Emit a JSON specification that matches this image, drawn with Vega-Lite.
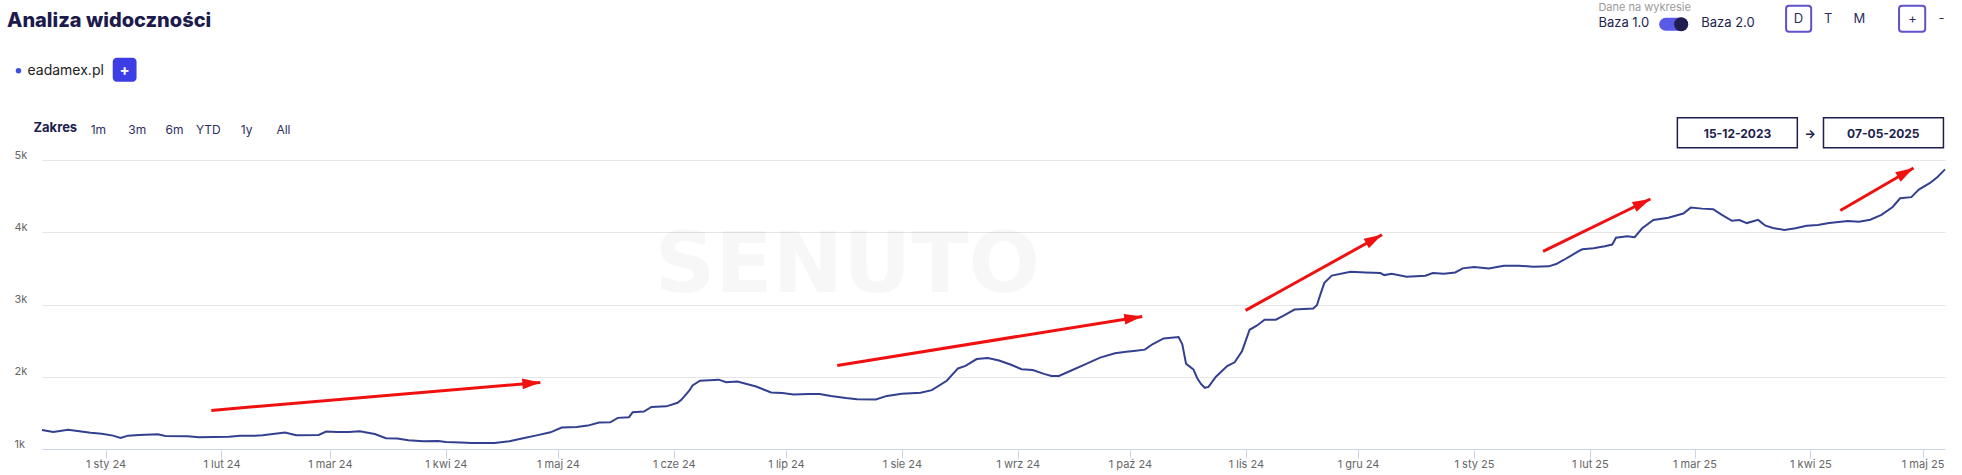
{
  "$schema": "https://vega.github.io/schema/vega-lite/v6.json",
  "width": 1903,
  "height": 289,
  "autosize": {"type": "none"},
  "padding": {"left": 42, "top": 160, "right": 17, "bottom": 26},
  "background": "white",
  "title": {"text": "Analiza widoczności", "anchor": "start", "frame": "group", "dx": -35, "offset": -33, "font": "Inter", "fontSize": 20, "fontWeight": 800, "color": "#1c1b4b"},
  "config": {"view": {"stroke": null}, "text": {"font": "Inter"}, "axis": {"labelFont": "Inter"}},
  "encoding": {
    "x": {"field": "date", "type": "temporal",
      "scale": {"type": "utc", "domain": [{"year": 2023, "month": 12, "date": 15, "utc": true}, {"year": 2025, "month": 5, "date": 7, "utc": true}]},
      "axis": {"title": null, "tickCount": {"interval": "month", "step": 1}, "labelExpr": "'1 ' + ['sty','lut','mar','kwi','maj','cze','lip','sie','wrz','paź','lis','gru'][utcmonth(datum.value)] + ' ' + utcFormat(datum.value, '%y')", "grid": false, "domainColor": "#ccd6eb", "tickColor": "#ccd6eb", "tickSize": 9, "labelColor": "#666666", "labelFontSize": 11, "labelPadding": 0, "labelFlush": false, "labelOverlap": false}},
    "y": {"field": "value", "type": "quantitative",
      "scale": {"domain": [1000, 5000], "nice": false, "zero": false},
      "axis": {"title": null, "values": [1000, 2000, 3000, 4000, 5000], "labelExpr": "datum.value / 1000 + 'k'", "domain": false, "ticks": false, "gridColor": "#e6e6e6", "labelAlign": "left", "labelPadding": 28, "labelBaseline": "alphabetic", "labelOffset": -2, "labelColor": "#666666", "labelFontSize": 11}}
  },
  "layer": [
    {
      "data": {"values": [{"label": "SENUTO", "date": "2024-07-17 10:00", "value": 3177}], "format": {"parse": {"date": "utc:'%Y-%m-%d %H:%M'"}}},
      "mark": {"type": "text", "font": "DejaVu Sans", "fontWeight": "bold", "fontSize": 84, "color": "#000000", "opacity": 0.028, "align": "center", "baseline": "alphabetic"},
      "encoding": {"text": {"field": "label"}}
    },
    {
      "data": {"values": [
        {"date": "2023-12-15", "value": 1264}, {"date": "2023-12-18", "value": 1236}, {"date": "2023-12-22", "value": 1268}, {"date": "2023-12-25", "value": 1245},
        {"date": "2023-12-28", "value": 1225}, {"date": "2023-12-31", "value": 1210}, {"date": "2024-01-03", "value": 1185}, {"date": "2024-01-05", "value": 1153},
        {"date": "2024-01-07", "value": 1185}, {"date": "2024-01-10", "value": 1194}, {"date": "2024-01-15", "value": 1204}, {"date": "2024-01-17", "value": 1181},
        {"date": "2024-01-23", "value": 1176}, {"date": "2024-01-26", "value": 1162}, {"date": "2024-01-30", "value": 1167}, {"date": "2024-02-03", "value": 1171},
        {"date": "2024-02-06", "value": 1185}, {"date": "2024-02-10", "value": 1185}, {"date": "2024-02-12", "value": 1190}, {"date": "2024-02-18", "value": 1227},
        {"date": "2024-02-21", "value": 1190}, {"date": "2024-02-27", "value": 1194}, {"date": "2024-02-29", "value": 1241}, {"date": "2024-03-03", "value": 1236},
        {"date": "2024-03-06", "value": 1236}, {"date": "2024-03-09", "value": 1245}, {"date": "2024-03-13", "value": 1208}, {"date": "2024-03-16", "value": 1148},
        {"date": "2024-03-19", "value": 1144}, {"date": "2024-03-22", "value": 1120}, {"date": "2024-03-26", "value": 1106}, {"date": "2024-03-30", "value": 1111},
        {"date": "2024-04-01", "value": 1097}, {"date": "2024-04-05", "value": 1090}, {"date": "2024-04-08", "value": 1083}, {"date": "2024-04-11", "value": 1083},
        {"date": "2024-04-14", "value": 1083}, {"date": "2024-04-18", "value": 1106}, {"date": "2024-04-22", "value": 1153}, {"date": "2024-04-25", "value": 1185},
        {"date": "2024-04-29", "value": 1231}, {"date": "2024-05-02", "value": 1296}, {"date": "2024-05-06", "value": 1306}, {"date": "2024-05-09", "value": 1324},
        {"date": "2024-05-12", "value": 1366}, {"date": "2024-05-15", "value": 1370}, {"date": "2024-05-17", "value": 1431}, {"date": "2024-05-20", "value": 1440},
        {"date": "2024-05-21", "value": 1509}, {"date": "2024-05-24", "value": 1519}, {"date": "2024-05-26", "value": 1583}, {"date": "2024-05-30", "value": 1590},
        {"date": "2024-06-02", "value": 1640}, {"date": "2024-06-03", "value": 1680}, {"date": "2024-06-05", "value": 1800}, {"date": "2024-06-06", "value": 1880},
        {"date": "2024-06-08", "value": 1945}, {"date": "2024-06-13", "value": 1960}, {"date": "2024-06-15", "value": 1925}, {"date": "2024-06-18", "value": 1935},
        {"date": "2024-06-23", "value": 1865}, {"date": "2024-06-27", "value": 1782}, {"date": "2024-06-30", "value": 1775}, {"date": "2024-07-03", "value": 1755},
        {"date": "2024-07-07", "value": 1762}, {"date": "2024-07-10", "value": 1762}, {"date": "2024-07-13", "value": 1735}, {"date": "2024-07-17", "value": 1706},
        {"date": "2024-07-20", "value": 1690}, {"date": "2024-07-25", "value": 1685}, {"date": "2024-07-28", "value": 1735}, {"date": "2024-08-01", "value": 1765},
        {"date": "2024-08-06", "value": 1778}, {"date": "2024-08-09", "value": 1815}, {"date": "2024-08-13", "value": 1945}, {"date": "2024-08-16", "value": 2115},
        {"date": "2024-08-18", "value": 2150}, {"date": "2024-08-21", "value": 2245}, {"date": "2024-08-24", "value": 2260}, {"date": "2024-08-27", "value": 2225},
        {"date": "2024-08-30", "value": 2170}, {"date": "2024-09-02", "value": 2105}, {"date": "2024-09-05", "value": 2092}, {"date": "2024-09-08", "value": 2040},
        {"date": "2024-09-10", "value": 2010}, {"date": "2024-09-12", "value": 2012}, {"date": "2024-09-15", "value": 2079}, {"date": "2024-09-19", "value": 2171},
        {"date": "2024-09-23", "value": 2265}, {"date": "2024-09-27", "value": 2325}, {"date": "2024-09-30", "value": 2345}, {"date": "2024-10-02", "value": 2357},
        {"date": "2024-10-05", "value": 2375}, {"date": "2024-10-07", "value": 2450}, {"date": "2024-10-10", "value": 2530}, {"date": "2024-10-14", "value": 2550},
        {"date": "2024-10-15", "value": 2450}, {"date": "2024-10-16", "value": 2180}, {"date": "2024-10-17", "value": 2140}, {"date": "2024-10-18", "value": 2100},
        {"date": "2024-10-19", "value": 1980}, {"date": "2024-10-20", "value": 1900}, {"date": "2024-10-21", "value": 1847}, {"date": "2024-10-22", "value": 1860},
        {"date": "2024-10-24", "value": 2000}, {"date": "2024-10-27", "value": 2148}, {"date": "2024-10-29", "value": 2200}, {"date": "2024-10-31", "value": 2357},
        {"date": "2024-11-02", "value": 2650}, {"date": "2024-11-04", "value": 2710}, {"date": "2024-11-06", "value": 2790}, {"date": "2024-11-09", "value": 2790},
        {"date": "2024-11-11", "value": 2843}, {"date": "2024-11-14", "value": 2930}, {"date": "2024-11-19", "value": 2944}, {"date": "2024-11-20", "value": 2990},
        {"date": "2024-11-21", "value": 3150}, {"date": "2024-11-22", "value": 3300}, {"date": "2024-11-24", "value": 3400}, {"date": "2024-11-29", "value": 3454},
        {"date": "2024-12-03", "value": 3444}, {"date": "2024-12-07", "value": 3435}, {"date": "2024-12-08", "value": 3407}, {"date": "2024-12-10", "value": 3426},
        {"date": "2024-12-14", "value": 3384}, {"date": "2024-12-19", "value": 3398}, {"date": "2024-12-21", "value": 3435}, {"date": "2024-12-24", "value": 3426},
        {"date": "2024-12-27", "value": 3444}, {"date": "2024-12-29", "value": 3500}, {"date": "2025-01-01", "value": 3519}, {"date": "2025-01-05", "value": 3500},
        {"date": "2025-01-09", "value": 3537}, {"date": "2025-01-13", "value": 3537}, {"date": "2025-01-17", "value": 3523}, {"date": "2025-01-21", "value": 3528},
        {"date": "2025-01-23", "value": 3560}, {"date": "2025-01-25", "value": 3616}, {"date": "2025-01-27", "value": 3676}, {"date": "2025-01-29", "value": 3740},
        {"date": "2025-01-30", "value": 3765}, {"date": "2025-02-02", "value": 3778}, {"date": "2025-02-05", "value": 3806}, {"date": "2025-02-07", "value": 3830},
        {"date": "2025-02-08", "value": 3925}, {"date": "2025-02-11", "value": 3945}, {"date": "2025-02-13", "value": 3932}, {"date": "2025-02-15", "value": 4055},
        {"date": "2025-02-18", "value": 4170}, {"date": "2025-02-22", "value": 4200}, {"date": "2025-02-26", "value": 4259}, {"date": "2025-02-28", "value": 4341},
        {"date": "2025-03-03", "value": 4327}, {"date": "2025-03-06", "value": 4318}, {"date": "2025-03-08", "value": 4250}, {"date": "2025-03-11", "value": 4159},
        {"date": "2025-03-13", "value": 4168}, {"date": "2025-03-15", "value": 4127}, {"date": "2025-03-18", "value": 4173}, {"date": "2025-03-19", "value": 4130},
        {"date": "2025-03-20", "value": 4091}, {"date": "2025-03-22", "value": 4059}, {"date": "2025-03-25", "value": 4032}, {"date": "2025-03-28", "value": 4055},
        {"date": "2025-03-31", "value": 4091}, {"date": "2025-04-03", "value": 4100}, {"date": "2025-04-06", "value": 4127}, {"date": "2025-04-11", "value": 4155},
        {"date": "2025-04-14", "value": 4145}, {"date": "2025-04-17", "value": 4173}, {"date": "2025-04-20", "value": 4240}, {"date": "2025-04-23", "value": 4350},
        {"date": "2025-04-25", "value": 4470}, {"date": "2025-04-28", "value": 4486}, {"date": "2025-04-30", "value": 4591}, {"date": "2025-05-03", "value": 4682},
        {"date": "2025-05-05", "value": 4764}, {"date": "2025-05-07", "value": 4870}
      ], "format": {"parse": {"date": "utc:'%Y-%m-%d'"}}},
      "mark": {"type": "line", "color": "#33408f", "strokeWidth": 2, "interpolate": "linear"}
    },
    {
      "data": {"name": "arrows", "values": [
        {"arrow": 1, "end": "tail", "date": "2024-01-29 07:00", "value": 1534}, {"arrow": 1, "end": "tip", "date": "2024-04-26 07:00", "value": 1922},
        {"arrow": 2, "end": "tail", "date": "2024-07-14 17:00", "value": 2157}, {"arrow": 2, "end": "tip", "date": "2024-10-04 07:00", "value": 2835},
        {"arrow": 3, "end": "tail", "date": "2024-10-31 22:00", "value": 2918}, {"arrow": 3, "end": "tip", "date": "2024-12-07 10:00", "value": 3966},
        {"arrow": 4, "end": "tail", "date": "2025-01-19 12:00", "value": 3735}, {"arrow": 4, "end": "tip", "date": "2025-02-17 05:00", "value": 4460},
        {"arrow": 5, "end": "tail", "date": "2025-04-09 00:00", "value": 4302}, {"arrow": 5, "end": "tip", "date": "2025-04-28 14:00", "value": 4889}
      ], "format": {"parse": {"date": "utc:'%Y-%m-%d %H:%M'"}}},
      "layer": [
        {"mark": {"type": "line", "color": "#f01010", "strokeWidth": 3, "strokeCap": "butt"}, "encoding": {"detail": {"field": "arrow"}}},
        {"transform": [{"filter": "datum.end == 'tip' && datum.arrow == 1"}], "mark": {"type": "point", "shape": "M0,0L-2,-0.6L-2,0.6Z", "size": 324, "filled": true, "color": "#f01010", "opacity": 1, "angle": 355}},
        {"transform": [{"filter": "datum.end == 'tip' && datum.arrow == 2"}], "mark": {"type": "point", "shape": "M0,0L-2,-0.6L-2,0.6Z", "size": 324, "filled": true, "color": "#f01010", "opacity": 1, "angle": 351}},
        {"transform": [{"filter": "datum.end == 'tip' && datum.arrow == 3"}], "mark": {"type": "point", "shape": "M0,0L-2,-0.6L-2,0.6Z", "size": 324, "filled": true, "color": "#f01010", "opacity": 1, "angle": 331}},
        {"transform": [{"filter": "datum.end == 'tip' && datum.arrow == 4"}], "mark": {"type": "point", "shape": "M0,0L-2,-0.6L-2,0.6Z", "size": 324, "filled": true, "color": "#f01010", "opacity": 1, "angle": 334}},
        {"transform": [{"filter": "datum.end == 'tip' && datum.arrow == 5"}], "mark": {"type": "point", "shape": "M0,0L-2,-0.6L-2,0.6Z", "size": 324, "filled": true, "color": "#f01010", "opacity": 1, "angle": 330}}
      ]
    },
    {
      "data": {"values": [
        {"date": "2024-01-02 22:00", "date2": "2024-01-09 07:00", "value": 6416, "value2": 6084}
      ], "format": {"parse": {"date": "utc:'%Y-%m-%d %H:%M'", "date2": "utc:'%Y-%m-%d %H:%M'"}}},
      "mark": {"type": "rect", "color": "#3d3de6", "cornerRadius": 4},
      "encoding": {"x2": {"field": "date2"}, "y2": {"field": "value2"}}
    },
    {
      "data": {"values": [
        {"date": "2025-02-24 10:00", "date2": "2025-03-28 12:00", "value": 5585, "value2": 5170},
        {"date": "2025-04-04 12:00", "date2": "2025-05-06 14:00", "value": 5585, "value2": 5170}
      ], "format": {"parse": {"date": "utc:'%Y-%m-%d %H:%M'", "date2": "utc:'%Y-%m-%d %H:%M'"}}},
      "mark": {"type": "rect", "fill": null, "fillOpacity": 0, "stroke": "#1d1d4f", "strokeWidth": 1.5},
      "encoding": {"x2": {"field": "date2"}, "y2": {"field": "value2"}}
    },
    {
      "data": {"values": [
        {"date": "2025-03-25 12:00", "date2": "2025-04-01 05:00", "value": 7135, "value2": 6775},
        {"date": "2025-04-24 17:00", "date2": "2025-05-01 17:00", "value": 7135, "value2": 6775}
      ], "format": {"parse": {"date": "utc:'%Y-%m-%d %H:%M'", "date2": "utc:'%Y-%m-%d %H:%M'"}}},
      "mark": {"type": "rect", "fill": null, "fillOpacity": 0, "stroke": "#5f52c9", "strokeWidth": 2, "cornerRadius": 3},
      "encoding": {"x2": {"field": "date2"}, "y2": {"field": "value2"}}
    },
    {
      "data": {"values": [
        {"date": "2025-02-21 07:00", "value": 6879, "part": "track"},
        {"date": "2025-02-25 14:00", "value": 6879, "part": "track"}
      ], "format": {"parse": {"date": "utc:'%Y-%m-%d %H:%M'"}}},
      "mark": {"type": "line", "color": "#5a5ae6", "strokeWidth": 13, "strokeCap": "round"}
    },
    {
      "data": {"values": [{"date": "2025-02-25 10:00", "value": 6879}], "format": {"parse": {"date": "utc:'%Y-%m-%d %H:%M'"}}},
      "mark": {"type": "point", "shape": "circle", "filled": true, "size": 196, "color": "#1e1e50", "opacity": 1}
    },
    {
      "data": {"values": [{"date": "2023-12-08 17:00", "value": 6236}], "format": {"parse": {"date": "utc:'%Y-%m-%d %H:%M'"}}},
      "mark": {"type": "point", "shape": "circle", "filled": true, "size": 30, "color": "#3b50e0", "opacity": 1}
    },
    {
      "data": {"values": [{"label": "eadamex.pl", "date": "2023-12-11 03:00", "value": 6236}], "format": {"parse": {"date": "utc:'%Y-%m-%d %H:%M'"}}},
      "mark": {"type": "text", "fontSize": 14, "color": "#222222", "align": "left", "baseline": "middle"},
      "encoding": {"text": {"field": "label"}}
    },
    {
      "data": {"values": [{"label": "+", "date": "2024-01-06 02:00", "value": 6250}], "format": {"parse": {"date": "utc:'%Y-%m-%d %H:%M'"}}},
      "mark": {"type": "text", "fontSize": 15, "fontWeight": "bold", "color": "#ffffff", "align": "center", "baseline": "middle"},
      "encoding": {"text": {"field": "label"}}
    },
    {
      "data": {"values": [{"label": "Zakres", "date": "2023-12-12 17:00", "value": 5440}], "format": {"parse": {"date": "utc:'%Y-%m-%d %H:%M'"}}},
      "mark": {"type": "text", "fontSize": 13, "fontWeight": "bold", "color": "#1d1d4f", "align": "left", "baseline": "middle"},
      "encoding": {"text": {"field": "label"}}
    },
    {
      "data": {"values": [
        {"label": "1m", "date": "2023-12-30 02:00", "value": 5419},
        {"label": "3m", "date": "2024-01-09 12:00", "value": 5419},
        {"label": "6m", "date": "2024-01-19 10:00", "value": 5419},
        {"label": "YTD", "date": "2024-01-28 12:00", "value": 5419},
        {"label": "1y", "date": "2024-02-07 17:00", "value": 5419},
        {"label": "All", "date": "2024-02-17 14:00", "value": 5419}
      ], "format": {"parse": {"date": "utc:'%Y-%m-%d %H:%M'"}}},
      "mark": {"type": "text", "fontSize": 12, "color": "#2d2d5f", "align": "center", "baseline": "middle"},
      "encoding": {"text": {"field": "label"}}
    },
    {
      "data": {"values": [{"label": "Dane na wykresie", "date": "2025-02-03 07:00", "value": 7108}], "format": {"parse": {"date": "utc:'%Y-%m-%d %H:%M'"}}},
      "mark": {"type": "text", "fontSize": 11, "color": "#9b9b9b", "align": "left", "baseline": "middle"},
      "encoding": {"text": {"field": "label"}}
    },
    {
      "data": {"values": [
        {"label": "Baza 1.0", "date": "2025-02-03 07:00", "value": 6900},
        {"label": "Baza 2.0", "date": "2025-03-02 19:00", "value": 6900}
      ], "format": {"parse": {"date": "utc:'%Y-%m-%d %H:%M'"}}},
      "mark": {"type": "text", "fontSize": 13, "color": "#23234f", "align": "left", "baseline": "middle"},
      "encoding": {"text": {"field": "label"}}
    },
    {
      "data": {"values": [
        {"label": "D", "date": "2025-03-28 19:00", "value": 6955},
        {"label": "T", "date": "2025-04-05 19:00", "value": 6955},
        {"label": "M", "date": "2025-04-14 02:00", "value": 6955},
        {"label": "+", "date": "2025-04-28 07:00", "value": 6955},
        {"label": "-", "date": "2025-05-06 02:00", "value": 6955}
      ], "format": {"parse": {"date": "utc:'%Y-%m-%d %H:%M'"}}},
      "mark": {"type": "text", "fontSize": 13, "color": "#2d2d5f", "align": "center", "baseline": "middle"},
      "encoding": {"text": {"field": "label"}}
    },
    {
      "data": {"values": [
        {"label": "15-12-2023", "date": "2025-03-12 12:00", "value": 5364},
        {"label": "→", "date": "2025-03-31 22:00", "value": 5364},
        {"label": "07-05-2025", "date": "2025-04-20 12:00", "value": 5364}
      ], "format": {"parse": {"date": "utc:'%Y-%m-%d %H:%M'"}}},
      "mark": {"type": "text", "fontSize": 12, "fontWeight": "bold", "color": "#1d1d4f", "align": "center", "baseline": "middle"},
      "encoding": {"text": {"field": "label"}}
    }
  ]
}
